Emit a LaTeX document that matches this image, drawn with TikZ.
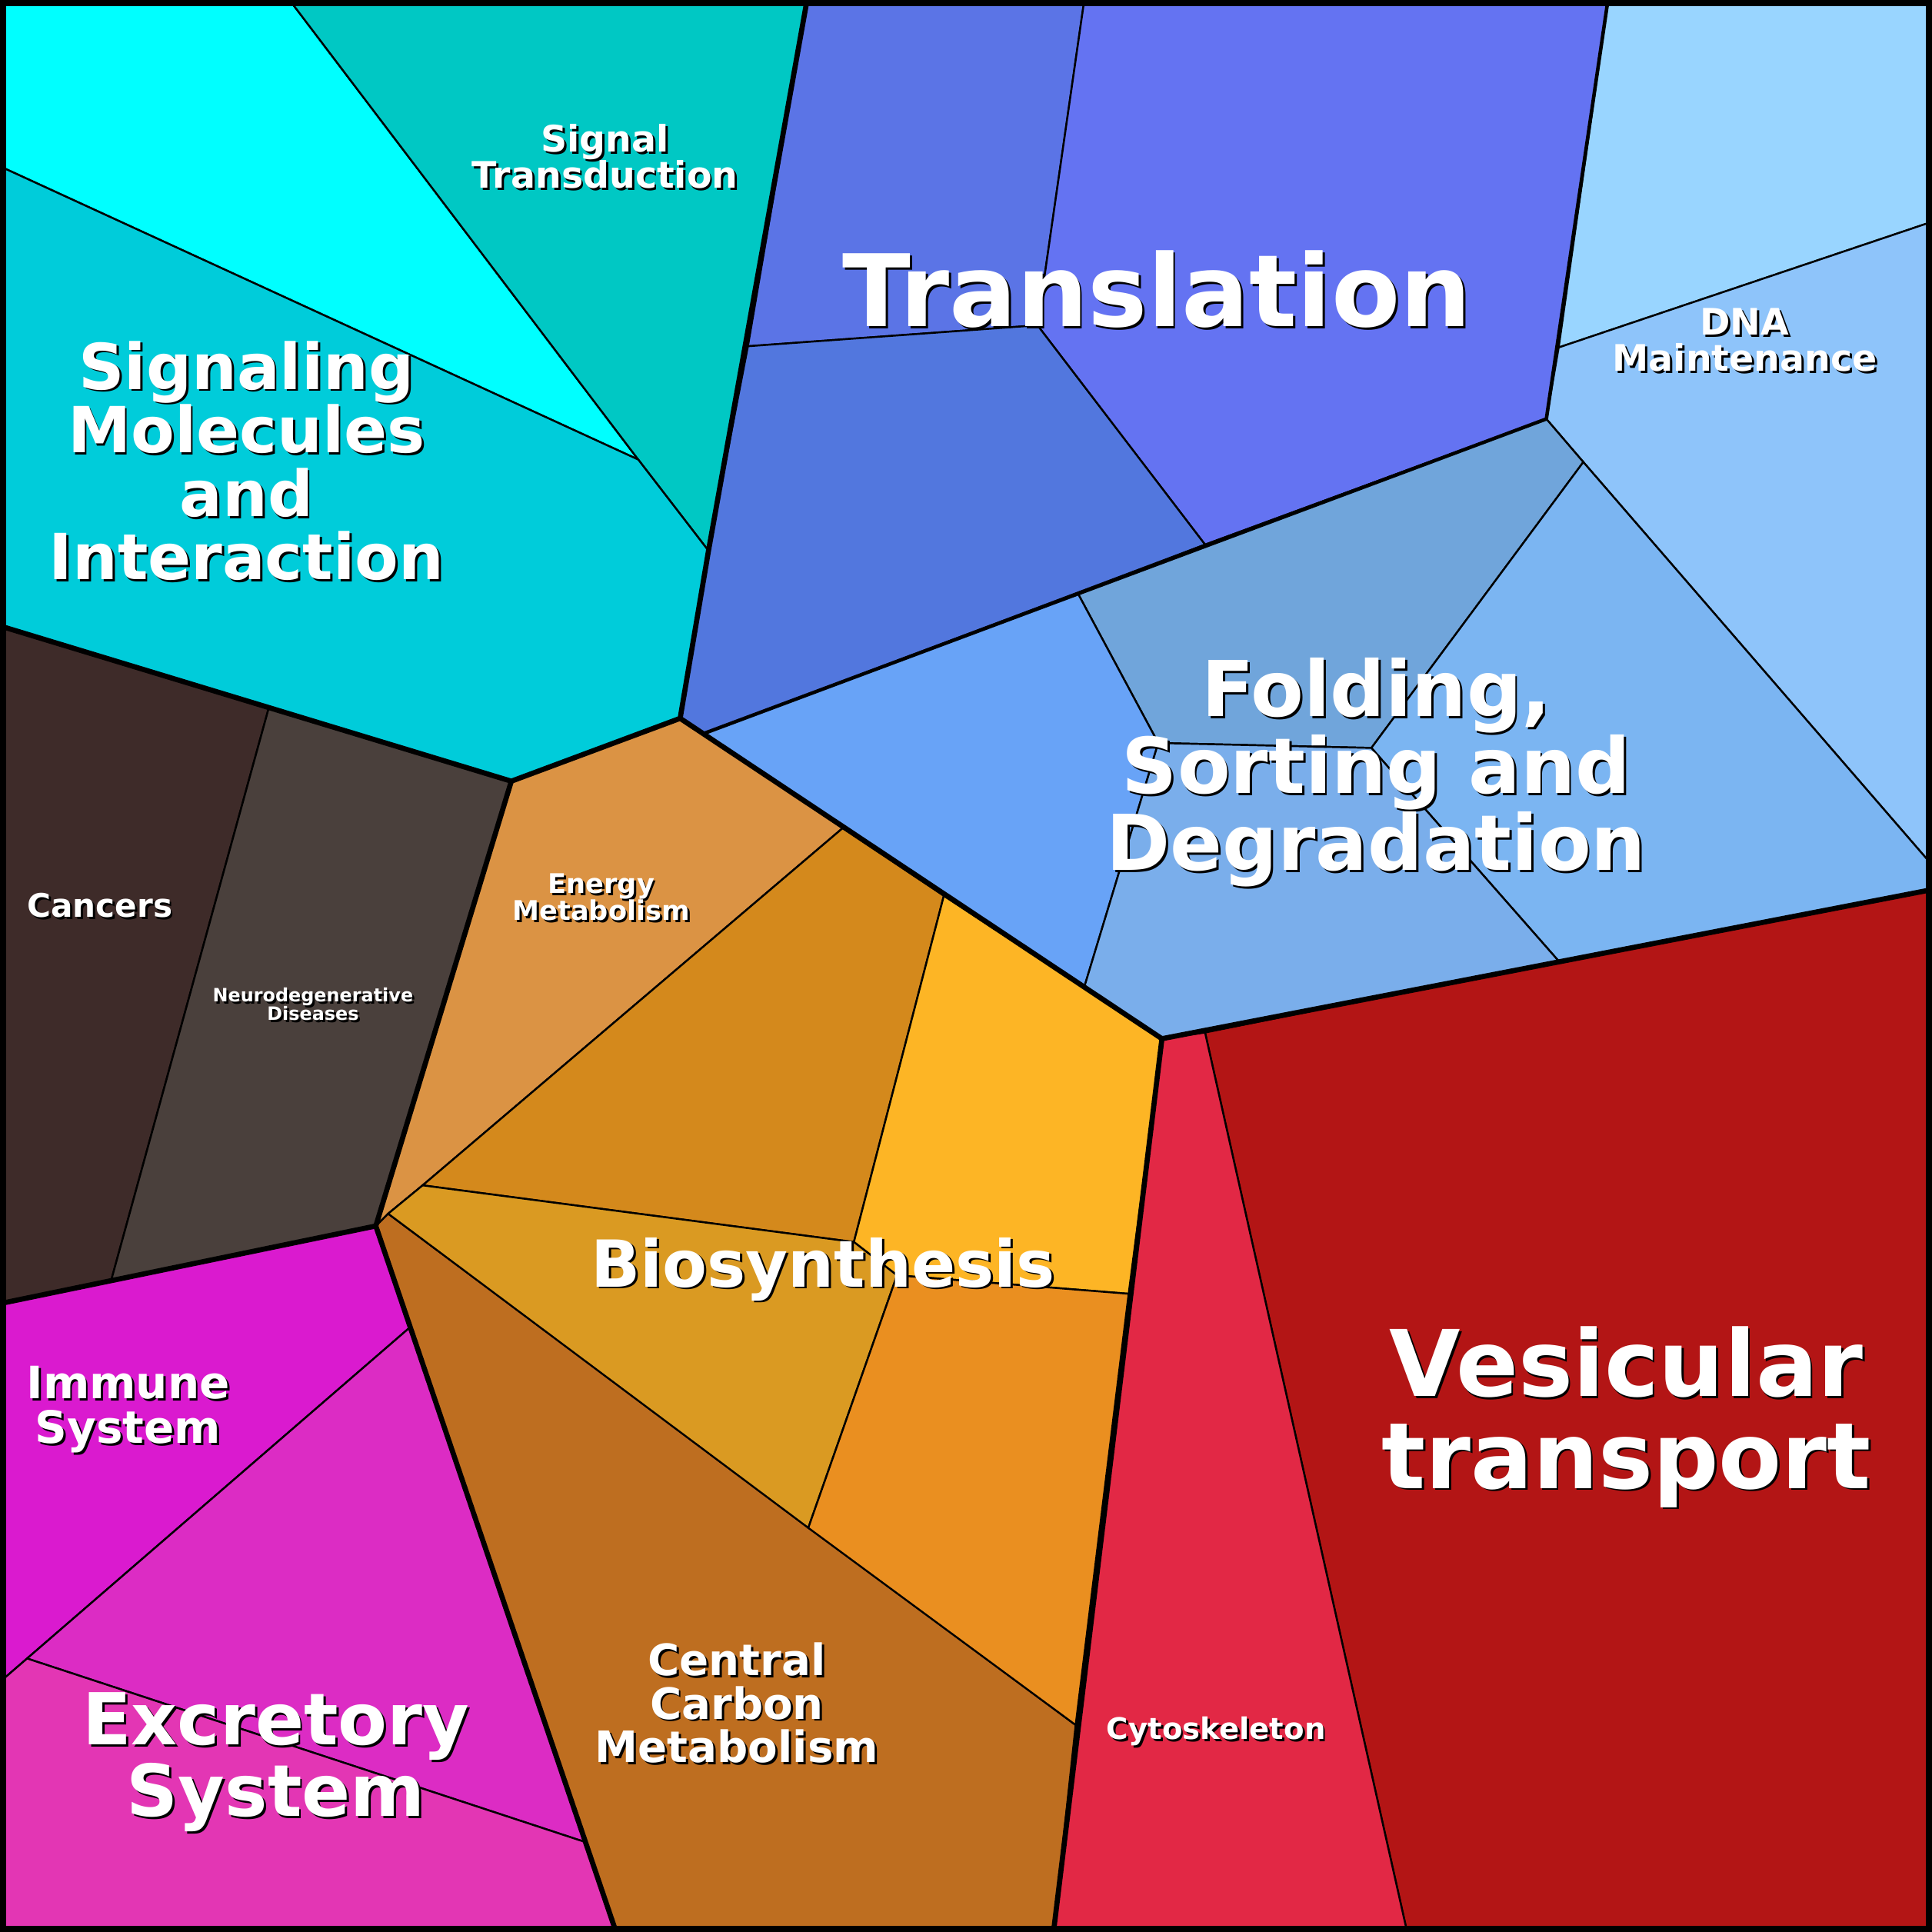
\documentclass[tikz,border=0pt]{standalone}
\usepackage{fontspec}
\setmainfont{DejaVu Sans}
\definecolor{cyanA}{HTML}{00FFFF}
\definecolor{tealA}{HTML}{00C8C4}
\definecolor{sigmol}{HTML}{00CCDA}
\definecolor{trA}{HTML}{5B74E6}
\definecolor{trB}{HTML}{6473F2}
\definecolor{trC}{HTML}{5277DE}
\definecolor{dnaA}{HTML}{99D5FF}
\definecolor{dnaB}{HTML}{8EC4FA}
\definecolor{foA}{HTML}{70A5DB}
\definecolor{foB}{HTML}{7BB5F2}
\definecolor{foC}{HTML}{68A3F7}
\definecolor{foD}{HTML}{7AAEEB}
\definecolor{vesic}{HTML}{B31515}
\definecolor{cytosk}{HTML}{E22845}
\definecolor{cancer}{HTML}{3E2B29}
\definecolor{neuro}{HTML}{4A403C}
\definecolor{immune}{HTML}{DA1ACF}
\definecolor{excA}{HTML}{DC2CC4}
\definecolor{excB}{HTML}{E336B4}
\definecolor{central}{HTML}{BE6E20}
\definecolor{energy}{HTML}{DB9344}
\definecolor{bioA}{HTML}{D4891C}
\definecolor{bioB}{HTML}{FDB525}
\definecolor{bioC}{HTML}{DA9A22}
\definecolor{bioD}{HTML}{EA8F20}
\tikzset{
  cell/.style={draw=black, line width=0.7pt},
  group/.style={draw=black, line width=1.9pt, line join=round},
  lbl/.style={text=white, font=\bfseries, align=center, inner sep=0pt},
  shd/.style={text=black, font=\bfseries, align=center, inner sep=0pt}
}
% label with a small dark shadow
\newcommand{\lbl}[4]{%
  \node[shd, font=\fontsize{#3}{#3}\bfseries, xshift=0.8pt, yshift=-0.8pt] at #2 {#4};
  \node[lbl, font=\fontsize{#3}{#3}\bfseries] (#1) at #2 {#4};}
\begin{document}
\begin{tikzpicture}[x=0.01602cm, y=-0.01602cm]
\useasboundingbox (0,0) rectangle (1568,1568);
% cells
\filldraw[cell, fill=cyanA] (0,0) -- (235,0) -- (518,373) -- (0,135) -- cycle;
\filldraw[cell, fill=tealA] (235,0) -- (655,0) -- (575,447) -- (518,373) -- cycle;
\filldraw[cell, fill=sigmol] (0,135) -- (518,373) -- (575,447) -- (552,583) -- (415,634) -- (0,508) -- cycle;
\filldraw[cell, fill=trA] (655,0) -- (880,0) -- (842,264) -- (607,281) -- cycle;
\filldraw[cell, fill=trB] (880,0) -- (1305,0) -- (1255,340) -- (978,442) -- (842,264) -- cycle;
\filldraw[cell, fill=trC] (607,281) -- (842,264) -- (978,442) -- (572,595) -- (552,583) -- (575,447) -- cycle;
\filldraw[cell, fill=dnaA] (1305,0) -- (1568,0) -- (1568,180) -- (1265,282) -- cycle;
\filldraw[cell, fill=dnaB] (1265,282) -- (1568,180) -- (1568,702) -- (1285,375) -- (1255,340) -- cycle;
\filldraw[cell, fill=foA] (978,442) -- (1255,340) -- (1285,375) -- (1113,607) -- (940,603) -- (875,482) -- cycle;
\filldraw[cell, fill=foB] (1285,375) -- (1568,702) -- (1568,722) -- (1265,780) -- (1113,607) -- cycle;
\filldraw[cell, fill=foC] (552,583) -- (572,595) -- (875,482) -- (940,603) -- (880,801) -- cycle;
\filldraw[cell, fill=foD] (940,603) -- (1113,607) -- (1265,780) -- (943,843) -- (880,801) -- cycle;
\filldraw[cell, fill=vesic] (978,838) -- (1265,780) -- (1568,722) -- (1568,1568) -- (1142,1568) -- cycle;
\filldraw[cell, fill=cytosk] (943,843) -- (978,838) -- (1142,1568) -- (855,1568) -- cycle;
\filldraw[cell, fill=cancer] (0,508) -- (218,575) -- (90,1040) -- (0,1058) -- cycle;
\filldraw[cell, fill=neuro] (218,575) -- (415,634) -- (305,995) -- (90,1040) -- cycle;
\filldraw[cell, fill=immune] (0,1058) -- (305,995) -- (333,1077) -- (0,1365) -- cycle;
\filldraw[cell, fill=excA] (22,1346) -- (333,1077) -- (475,1495) -- cycle;
\filldraw[cell, fill=excB] (0,1365) -- (22,1346) -- (475,1495) -- (500,1568) -- (0,1568) -- cycle;
\filldraw[cell, fill=central] (305,995) -- (315,985) -- (873,1400) -- (855,1568) -- (500,1568) -- cycle;
\filldraw[cell, fill=energy] (415,634) -- (552,583) -- (684,672) -- (343,962) -- (315,985) -- (305,995) -- cycle;
\filldraw[cell, fill=bioA] (343,962) -- (684,672) -- (766,727) -- (693,1008) -- cycle;
\filldraw[cell, fill=bioB] (766,727) -- (943,843) -- (916,1050) -- (728,1035) -- (693,1008) -- cycle;
\filldraw[cell, fill=bioC] (315,985) -- (343,962) -- (693,1008) -- (728,1035) -- (656,1240) -- cycle;
\filldraw[cell, fill=bioD] (728,1035) -- (916,1050) -- (873,1400) -- (656,1240) -- cycle;
% group borders
\draw[group] (0,508) -- (415,634) -- (552,583) -- (575,447) -- (655,0);
\draw[group] (552,583) -- (943,843) -- (1568,722);
\draw[group] (943,843) -- (855,1568);
\draw[group] (415,634) -- (305,995) -- (500,1568);
\draw[group] (305,995) -- (0,1058);
\draw[draw=black, line width=1.3pt] (572,595) -- (1255,340) -- (1305,0);
\draw[draw=black, line width=4.4pt] (0,0) rectangle (1568,1568);
% labels
\lbl{trans}{(939,235)}{37}{Translation}
\lbl{vesic}{(1320,1150)}{34}{Vesicular\\transport}
\lbl{fold}{(1117,627)}{28.5}{Folding,\\Sorting and\\Degradation}
\lbl{sigm}{(200,374)}{23.5}{Signaling\\Molecules\\and\\Interaction}
\lbl{excr}{(224,1430)}{26.5}{Excretory\\System}
\lbl{bios}{(668,1030)}{24}{Biosynthesis}
\lbl{sigt}{(491,127)}{13.5}{Signal\\Transduction}
\lbl{dna}{(1416,276)}{13.5}{DNA\\Maintenance}
\lbl{ccm}{(598,1382)}{16}{Central\\Carbon\\Metabolism}
\lbl{imm}{(104,1144)}{16.5}{Immune\\System}
\lbl{canc}{(81,735)}{12}{Cancers}
\lbl{ener}{(488,728)}{10}{Energy\\Metabolism}
\lbl{neur}{(254,815)}{6.8}{Neurodegenerative\\Diseases}
\lbl{cyto}{(987,1405)}{11}{Cytoskeleton}
\end{tikzpicture}
\end{document}
